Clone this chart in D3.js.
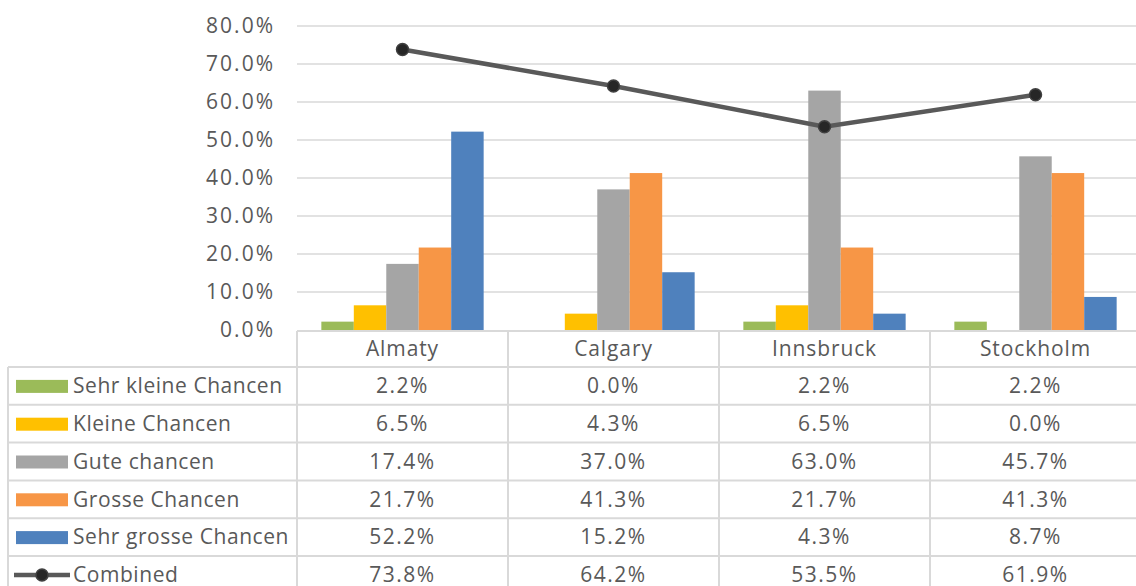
<!DOCTYPE html>
<html>
<head>
<meta charset="utf-8">
<script src="https://cdn.jsdelivr.net/npm/d3@7"></script>
<style>
  html, body { margin: 0; padding: 0; background: #fff; }
  svg { display: block; font-family: "Open Sans", sans-serif; }
</style>
</head>
<body>
<div id="chart"></div>
<script>
const cities = ["Almaty", "Calgary", "Innsbruck", "Stockholm"];
const seriesNames = ["Sehr kleine Chancen", "Kleine Chancen", "Gute chancen", "Grosse Chancen", "Sehr grosse Chancen"];
const seriesColors = ["#9BBB59", "#FFC000", "#A5A5A5", "#F79646", "#4F81BD"];
const sehrKlein = [2.2, 0.0, 2.2, 2.2];
const klein = [6.5, 4.3, 6.5, 0.0];
const gute = [17.4, 37.0, 63.0, 45.7];
const grosse = [21.7, 41.3, 21.7, 41.3];
const sehrGross = [52.2, 15.2, 4.3, 8.7];
const combined = [73.8, 64.2, 53.5, 61.9];
const yTicks = [0, 10, 20, 30, 40, 50, 60, 70, 80];

const seriesValues = [sehrKlein, klein, gute, grosse, sehrGross];

const width = 1136;
const height = 586;
const textColor = "#595959";
const gridColor = "#D9D9D9";
const fontSize = "21px";
const numSpacing = "1.5px";
const textSpacing = "0.55px";

const svg = d3.select("#chart")
  .append("svg")
  .attr("width", width)
  .attr("height", height);

// plot area
const x0 = d3.scaleBand().domain(cities).range([297, 1141]).paddingInner(0).paddingOuter(0);
const x1 = d3.scaleBand().domain(seriesNames).range([0, x0.bandwidth()]).paddingInner(0).paddingOuter(0.75);
const y = d3.scaleLinear().domain([0, 80]).range([330, 26]);

// gridlines
svg.append("g")
  .selectAll("line")
  .data(yTicks.slice(1))
  .enter()
  .append("line")
  .attr("x1", 297)
  .attr("x2", width)
  .attr("y1", (d) => y(d))
  .attr("y2", (d) => y(d))
  .attr("stroke", gridColor)
  .attr("stroke-width", 1.5);

// y labels
svg.append("g")
  .selectAll("text")
  .data(yTicks)
  .enter()
  .append("text")
  .attr("x", 275)
  .attr("y", (d) => y(d))
  .attr("dy", "0.35em")
  .attr("text-anchor", "end")
  .attr("fill", textColor)
  .attr("font-size", fontSize)
  .attr("letter-spacing", "2px")
  .text((d) => d.toFixed(1) + "%");

// bars
seriesNames.forEach((name, si) => {
  svg.append("g")
    .selectAll("rect")
    .data(seriesValues[si])
    .enter()
    .append("rect")
    .attr("x", (d, i) => x0(cities[i]) + x1(name))
    .attr("width", x1.bandwidth())
    .attr("y", (d) => y(d))
    .attr("height", (d) => y(0) - y(d))
    .attr("fill", seriesColors[si]);
});

// combined line
const line = d3.line()
  .x((d, i) => x0(cities[i]) + x0.bandwidth() / 2)
  .y((d) => y(d));

svg.append("path")
  .datum(combined)
  .attr("d", line)
  .attr("fill", "none")
  .attr("stroke", "#595959")
  .attr("stroke-width", 4.5);

svg.append("g")
  .selectAll("circle")
  .data(combined)
  .enter()
  .append("circle")
  .attr("cx", (d, i) => x0(cities[i]) + x0.bandwidth() / 2)
  .attr("cy", (d) => y(d))
  .attr("r", 6)
  .attr("fill", "#262626")
  .attr("stroke", "#404040")
  .attr("stroke-width", 1.5);

// data table
const rowLabels = seriesNames.concat(["Combined"]);
const rowValues = seriesValues.concat([combined]);
const headerTop = 331;
const headerBottom = 367;
const rowH = 37.8;
const rowTop = (r) => (r === 0 ? headerTop : headerBottom + (r - 1) * rowH);

const table = svg.append("g");

// horizontal lines
table.append("line")
  .attr("x1", 297).attr("x2", width)
  .attr("y1", headerTop).attr("y2", headerTop)
  .attr("stroke", gridColor).attr("stroke-width", 2);

table.selectAll("line.hrow")
  .data(d3.range(1, 7))
  .enter()
  .append("line")
  .attr("class", "hrow")
  .attr("x1", 8).attr("x2", width)
  .attr("y1", (d) => rowTop(d)).attr("y2", (d) => rowTop(d))
  .attr("stroke", gridColor).attr("stroke-width", 2);

// vertical lines
table.append("line")
  .attr("x1", 8).attr("x2", 8)
  .attr("y1", headerBottom).attr("y2", height)
  .attr("stroke", gridColor).attr("stroke-width", 2);

table.selectAll("line.vcol")
  .data(cities)
  .enter()
  .append("line")
  .attr("class", "vcol")
  .attr("x1", (d) => x0(d)).attr("x2", (d) => x0(d))
  .attr("y1", headerTop).attr("y2", height)
  .attr("stroke", gridColor).attr("stroke-width", 2);

// header
table.selectAll("text.head")
  .data(cities)
  .enter()
  .append("text")
  .attr("class", "head")
  .attr("x", (d) => x0(d) + x0.bandwidth() / 2)
  .attr("y", (headerTop + headerBottom) / 2)
  .attr("dy", "0.35em")
  .attr("text-anchor", "middle")
  .attr("fill", textColor)
  .attr("font-size", fontSize)
  .attr("letter-spacing", "0.9px")
  .text((d) => d);

// rows
rowLabels.forEach((label, ri) => {
  const cy = rowTop(ri + 1) + rowH / 2;

  if (ri < seriesNames.length) {
    table.append("rect")
      .attr("x", 16).attr("y", cy - 6)
      .attr("width", 52).attr("height", 13)
      .attr("fill", seriesColors[ri]);
  } else {
    table.append("line")
      .attr("x1", 14).attr("x2", 70)
      .attr("y1", cy).attr("y2", cy)
      .attr("stroke", "#595959").attr("stroke-width", 4.5);
    table.append("circle")
      .attr("cx", 42).attr("cy", cy).attr("r", 6)
      .attr("fill", "#262626").attr("stroke", "#404040").attr("stroke-width", 1.5);
  }

  table.append("text")
    .attr("x", 73)
    .attr("y", cy)
    .attr("dy", "0.35em")
    .attr("fill", textColor)
    .attr("font-size", fontSize)
    .attr("letter-spacing", textSpacing)
    .text(label);

  table.selectAll(null)
    .data(rowValues[ri])
    .enter()
    .append("text")
    .attr("x", (d, i) => x0(cities[i]) + x0.bandwidth() / 2)
    .attr("y", cy)
    .attr("dy", "0.35em")
    .attr("text-anchor", "middle")
    .attr("fill", textColor)
    .attr("font-size", fontSize)
    .attr("letter-spacing", numSpacing)
    .text((d) => d.toFixed(1) + "%");
});
</script>
</body>
</html>
